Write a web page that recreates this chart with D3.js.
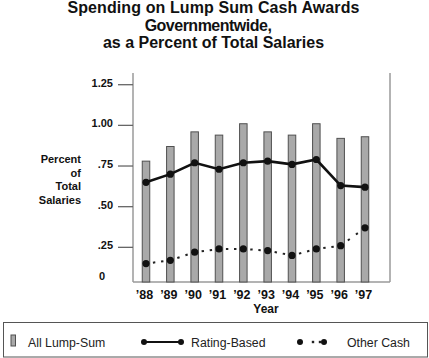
<!DOCTYPE html>
<html><head><meta charset="utf-8">
<script src="https://cdn.jsdelivr.net/npm/d3@7"></script>
<style>body{margin:0;background:#fff}svg{display:block}text{font-family:"Liberation Sans",Arial,sans-serif}</style>
</head><body>
<script>
const years = ["’88","’89","’90","’91","’92","’93","’94","’95","’96","’97"];
const allLumpSum = [0.78,0.87,0.96,0.94,1.01,0.96,0.94,1.01,0.92,0.93];
const ratingBased = [0.65,0.70,0.77,0.73,0.77,0.78,0.76,0.79,0.63,0.62];
const otherCash = [0.15,0.17,0.22,0.24,0.24,0.23,0.20,0.24,0.26,0.37];
const yTicks = [0,0.25,0.5,0.75,1.0,1.25];
const yTickLabels = ["0",".25",".50",".75","1.00","1.25"];
const titleLines = ["Spending on Lump Sum Cash Awards","Governmentwide,","as a Percent of Total Salaries"];
const yTitle = ["Percent","of","Total","Salaries"];

const W=429,H=358;
const svg=d3.select("body").append("svg").attr("width",W).attr("height",H);
const frame={left:133,right:390,top:73,bottom:282};
const x=d3.scalePoint().domain(years).range([146,365]);
const y=d3.scaleLinear().domain([0,1.25]).range([288,84.7]);

// title
const titleX=[213.5,208,213.5];
svg.append("g").selectAll("text").data(titleLines).join("text")
  .attr("x",(d,i)=>titleX[i]).attr("y",(d,i)=>13+i*17.5).attr("text-anchor","middle")
  .attr("font-size",16).attr("font-weight","bold").attr("fill","#111")
  .attr("letter-spacing",(d,i)=>i===0?0.1:(i===1?-0.5:0))
  .text(d=>d);

// frame
const gray="#9a9a9a";
svg.append("line").attr("x1",frame.left).attr("x2",frame.left).attr("y1",frame.top).attr("y2",frame.bottom).attr("stroke",gray).attr("stroke-width",1.5);
svg.append("line").attr("x1",frame.right).attr("x2",frame.right).attr("y1",frame.top).attr("y2",frame.bottom).attr("stroke",gray).attr("stroke-width",1.5);
svg.append("line").attr("x1",frame.left).attr("x2",frame.right).attr("y1",frame.bottom).attr("y2",frame.bottom).attr("stroke",gray).attr("stroke-width",1.5);

// y ticks
const yt=svg.append("g");
yTicks.forEach((t,i)=>{
  if(t>0){
    yt.append("line").attr("x1",118).attr("x2",frame.left).attr("y1",y(t)).attr("y2",y(t)).attr("stroke","#666").attr("stroke-width",1.3);
    yt.append("text").attr("x",113).attr("y",y(t)+2).attr("text-anchor","end").attr("font-size",11).attr("font-weight","bold").attr("fill","#111").text(yTickLabels[i]);
  } else {
    yt.append("text").attr("x",102).attr("y",frame.bottom-2).attr("text-anchor","middle").attr("font-size",11).attr("font-weight","bold").attr("fill","#111").text(yTickLabels[i]);
  }
});
svg.append("g").selectAll("text").data(yTitle).join("text")
  .attr("x",81).attr("y",(d,i)=>163+i*13.7).attr("text-anchor","end")
  .attr("font-size",11).attr("font-weight","bold").attr("fill","#111").text(d=>d);

// x labels
svg.append("g").selectAll("text").data(years).join("text")
  .attr("x",d=>x(d)-1.5).attr("y",299).attr("text-anchor","middle")
  .attr("font-size",12.5).attr("font-weight","bold").attr("fill","#111").text(d=>d);
svg.append("text").attr("x",266).attr("y",313).attr("text-anchor","middle").attr("font-size",12).attr("font-weight","bold").attr("fill","#111").text("Year");

// bars
const bw=7.5;
svg.append("g").selectAll("rect").data(allLumpSum).join("rect")
  .attr("x",(d,i)=>x(years[i])-bw/2).attr("width",bw)
  .attr("y",d=>y(d)).attr("height",d=>frame.bottom-y(d))
  .attr("fill","#a9a9a9").attr("stroke","#505050").attr("stroke-width",1);

// rating line
const line=d3.line().x((d,i)=>x(years[i])).y(d=>y(d));
svg.append("path").attr("d",line(ratingBased)).attr("fill","none").attr("stroke","#111").attr("stroke-width",2.6);
svg.append("g").selectAll("circle").data(ratingBased).join("circle")
  .attr("cx",(d,i)=>x(years[i])).attr("cy",d=>y(d)).attr("r",3.6).attr("fill","#111");

// other cash dotted
const oc=svg.append("g");
for(let i=0;i<otherCash.length-1;i++){
  const x1=x(years[i]),y1=y(otherCash[i]),x2=x(years[i+1]),y2=y(otherCash[i+1]);
  const L=Math.hypot(x2-x1,y2-y1);
  oc.append("line").attr("x1",x1).attr("y1",y1).attr("x2",x2).attr("y2",y2)
    .attr("stroke","#222").attr("stroke-width",2)
    .attr("stroke-dasharray",`0 ${L/3-1.2} 2.4 ${L/3-2.4} 2.4 ${L}`);
}
oc.selectAll("circle").data(otherCash).join("circle")
  .attr("cx",(d,i)=>x(years[i])).attr("cy",d=>y(d)).attr("r",3.6).attr("fill","#111");

// legend
const lg=svg.append("g");
lg.append("rect").attr("x",3.5).attr("y",322.5).attr("width",424).attr("height",34.5).attr("fill","#fff").attr("stroke","#555").attr("stroke-width",1);
const ly=342;
lg.append("rect").attr("x",11).attr("y",335).attr("width",4.5).attr("height",11).attr("fill","#a9a9a9").attr("stroke","#505050");
lg.append("text").attr("x",28).attr("y",ly+4.5).attr("font-size",12.3).attr("fill","#222").text("All Lump-Sum");
lg.append("line").attr("x1",144).attr("x2",181).attr("y1",ly).attr("y2",ly).attr("stroke","#111").attr("stroke-width",2.2);
[144,181].forEach(cx=>lg.append("circle").attr("cx",cx).attr("cy",ly).attr("r",3).attr("fill","#111"));
lg.append("text").attr("x",191).attr("y",ly+4.5).attr("font-size",12.3).attr("fill","#222").text("Rating-Based");
[300,324].forEach(cx=>lg.append("circle").attr("cx",cx).attr("cy",ly).attr("r",3).attr("fill","#111"));
[313,320].forEach(cx=>lg.append("rect").attr("x",cx-1.2).attr("y",ly-1.2).attr("width",2.4).attr("height",2.4).attr("fill","#222"));
lg.append("text").attr("x",347).attr("y",ly+4.5).attr("font-size",12.3).attr("fill","#222").text("Other Cash");
</script>
</body></html>
